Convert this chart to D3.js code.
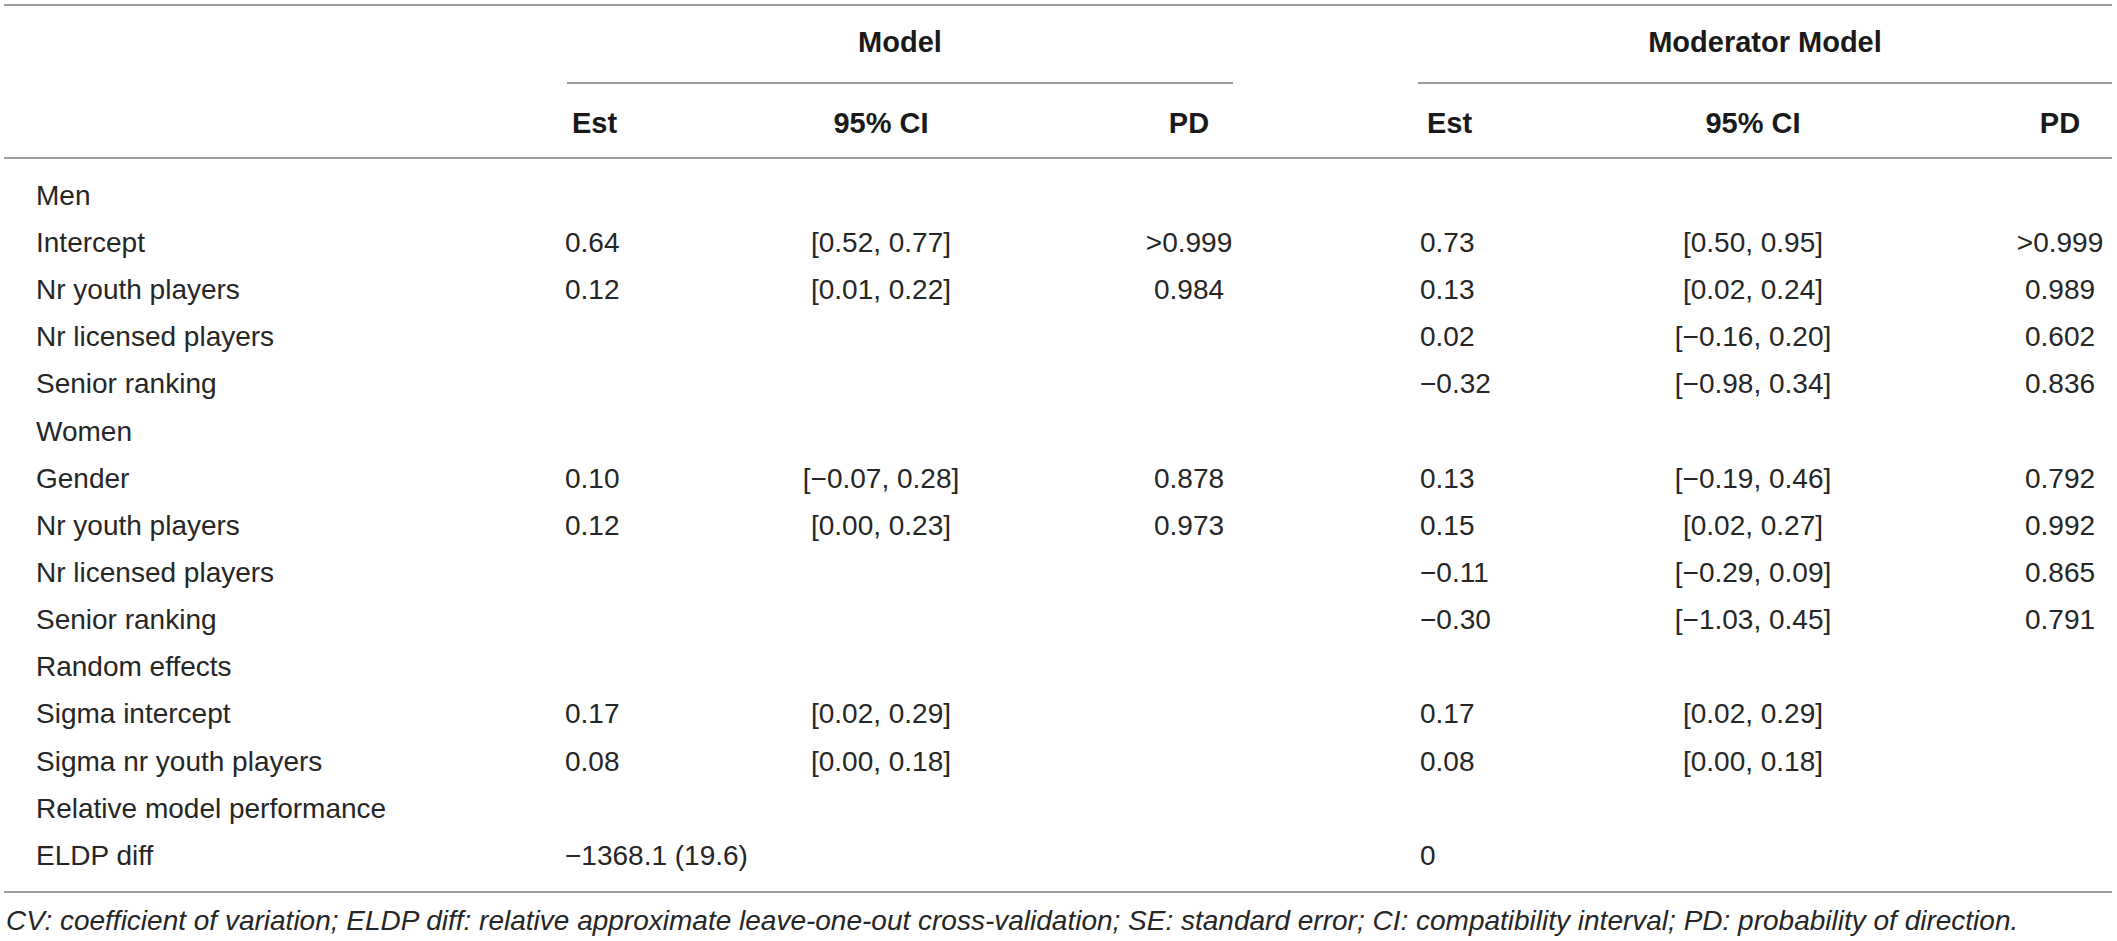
<!DOCTYPE html>
<html>
<head>
<meta charset="utf-8">
<script src="https://cdn.jsdelivr.net/npm/d3@7"></script>
<style>
  html, body { margin: 0; padding: 0; background: #fff; }
  svg text { font-family: "Liberation Sans", Arial, sans-serif; fill: #262626; }
  .hdr { font-weight: bold; fill: #1a1a1a; }
  .rule { stroke: #7d7d7d; stroke-width: 1.6; }
</style>
</head>
<body>
<svg id="table" width="2117" height="941"></svg>
<script>
// table contents
var groups = ["Model", "Moderator Model"];
var colHeads = ["Est", "95% CI", "PD"];

var rowLabels = ["Men", "Intercept", "Nr youth players", "Nr licensed players", "Senior ranking",
  "Women", "Gender", "Nr youth players", "Nr licensed players", "Senior ranking",
  "Random effects", "Sigma intercept", "Sigma nr youth players",
  "Relative model performance", "ELDP diff"];

var modelEst = ["", "0.64", "0.12", "", "", "", "0.10", "0.12", "", "", "", "0.17", "0.08", "", "\u22121368.1 (19.6)"];
var modelCI  = ["", "[0.52, 0.77]", "[0.01, 0.22]", "", "", "", "[\u22120.07, 0.28]", "[0.00, 0.23]", "", "", "", "[0.02, 0.29]", "[0.00, 0.18]", "", ""];
var modelPD  = ["", ">0.999", "0.984", "", "", "", "0.878", "0.973", "", "", "", "", "", "", ""];

var modEst = ["", "0.73", "0.13", "0.02", "\u22120.32", "", "0.13", "0.15", "\u22120.11", "\u22120.30", "", "0.17", "0.08", "", "0"];
var modCI  = ["", "[0.50, 0.95]", "[0.02, 0.24]", "[\u22120.16, 0.20]", "[\u22120.98, 0.34]", "", "[\u22120.19, 0.46]", "[0.02, 0.27]", "[\u22120.29, 0.09]", "[\u22121.03, 0.45]", "", "[0.02, 0.29]", "[0.00, 0.18]", "", ""];
var modPD  = ["", ">0.999", "0.989", "0.602", "0.836", "", "0.792", "0.992", "0.865", "0.791", "", "", "", "", ""];

var footnote = "CV: coefficient of variation; ELDP diff: relative approximate leave-one-out cross-validation; SE: standard error; CI: compatibility interval; PD: probability of direction.";

var svg = d3.select("#table"),
    width = 2117,
    fontSize = 28,
    hdrSize = 29,
    left = 4,
    right = 2112;

// vertical layout: one point per body row
var y = d3.scalePoint()
    .domain(d3.range(rowLabels.length))
    .range([195, 855]);

// column anchors per group: est (left), ci (centre), pd (centre)
var groupCols = [
  { start: 567, est: 565, ci: 881, pd: 1189, end: 1233, center: 900, cols: [modelEst, modelCI, modelPD] },
  { start: 1418, est: 1420, ci: 1753, pd: 2060, end: 2112, center: 1765, cols: [modEst, modCI, modPD] }
];

function rule(x1, x2, yy) {
  svg.append("line").attr("class", "rule")
    .attr("x1", x1).attr("x2", x2).attr("y1", yy).attr("y2", yy);
}

rule(left, right, 5);
rule(left, right, 158);
rule(left, right, 892);

groupCols.forEach(function (g, i) {
  svg.append("text").attr("class", "hdr")
    .attr("x", g.center).attr("y", 42).attr("dy", "0.35em")
    .attr("text-anchor", "middle").attr("font-size", hdrSize)
    .text(groups[i]);
  rule(g.start, g.end, 83);

  var anchors = [[g.est, "start"], [g.ci, "middle"], [g.pd, "middle"]];
  colHeads.forEach(function (h, j) {
    svg.append("text").attr("class", "hdr")
      .attr("x", anchors[j][0] + (j === 0 ? 7 : 0)).attr("y", 123).attr("dy", "0.35em")
      .attr("text-anchor", anchors[j][1]).attr("font-size", hdrSize)
      .text(h);
  });

  g.cols.forEach(function (vals, j) {
    svg.append("g").selectAll("text")
      .data(vals)
      .join("text")
      .attr("x", anchors[j][0])
      .attr("y", function (d, k) { return y(k); })
      .attr("dy", "0.35em")
      .attr("text-anchor", anchors[j][1])
      .attr("font-size", fontSize)
      .text(function (d) { return d; });
  });
});

// row labels
svg.append("g").selectAll("text")
  .data(rowLabels)
  .join("text")
  .attr("x", 36)
  .attr("y", function (d, k) { return y(k); })
  .attr("dy", "0.35em")
  .attr("font-size", fontSize)
  .text(function (d) { return d; });

svg.append("text")
  .attr("x", 6).attr("y", 920).attr("dy", "0.35em")
  .attr("font-size", fontSize)
  .attr("font-style", "italic")
  .text(footnote);
</script>
</body>
</html>
